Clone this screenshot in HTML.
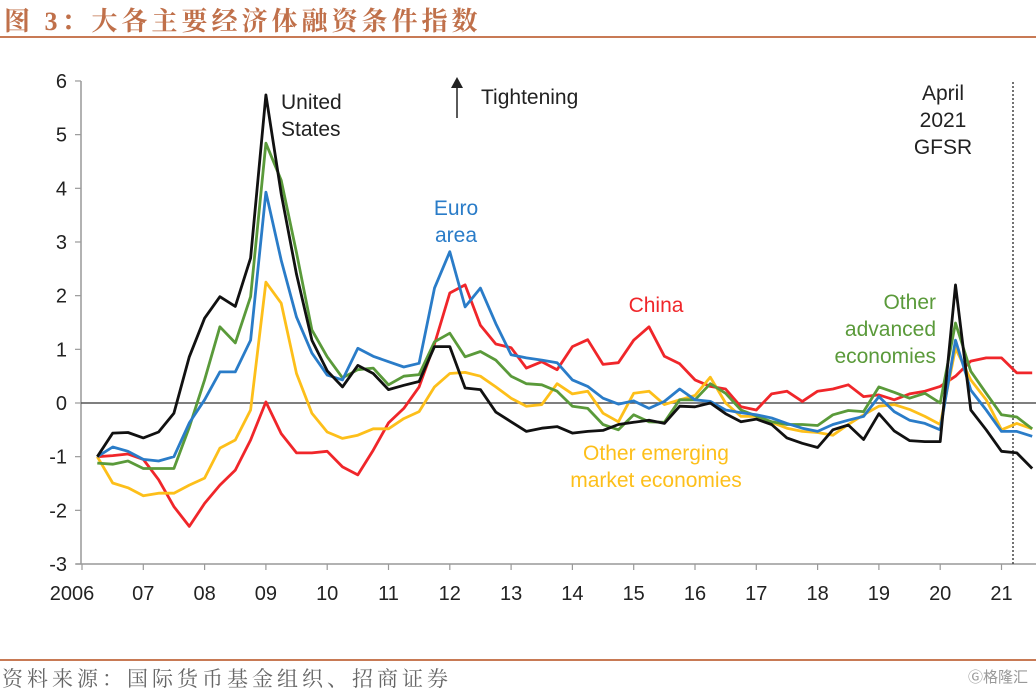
<!DOCTYPE html>
<html><head><meta charset="utf-8">
<style>
body{margin:0;background:#fff;width:1036px;height:692px;overflow:hidden;position:relative;font-family:"Liberation Sans","Noto Sans CJK SC",sans-serif}
#title{position:absolute;left:4px;top:1px;font-family:"Liberation Serif","Noto Serif CJK SC",serif;font-size:26px;font-weight:bold;color:#c0704a;letter-spacing:4px}
#tline{position:absolute;left:0;top:36px;width:1036px;height:2px;background:#c87a55}
#bline{position:absolute;left:0;top:659px;width:1036px;height:2px;background:#c87a55}
#src{position:absolute;left:2px;top:663px;font-family:"Liberation Serif","Noto Serif CJK SC",serif;font-size:21px;color:#666;letter-spacing:4px}
#wm{position:absolute;right:8px;top:666px;font-size:15px;color:#999}
svg{position:absolute;left:0;top:0}
</style></head><body>
<div id="title">图 3：大各主要经济体融资条件指数</div>
<div id="tline"></div>
<svg id="chart" width="1036" height="692"></svg>
<div id="bline"></div>
<div id="src">资料来源：国际货币基金组织、招商证券</div>
<div id="wm">Ⓖ格隆汇</div>
<script>
const yTicks=[6,5,4,3,2,1,0,-1,-2,-3];
const xTickLabels=["2006","07","08","09","10","11","12","13","14","15","16","17","18","19","20","21"];
const startYear=2006.25, step=0.25;
const us=[-1.0,-0.56,-0.55,-0.65,-0.54,-0.19,0.86,1.58,1.98,1.8,2.7,5.74,3.9,2.4,1.17,0.6,0.3,0.7,0.55,0.25,0.33,0.4,1.05,1.05,0.28,0.25,-0.17,-0.35,-0.53,-0.47,-0.44,-0.56,-0.53,-0.51,-0.4,-0.36,-0.32,-0.38,-0.06,-0.07,0.0,-0.2,-0.35,-0.3,-0.4,-0.65,-0.75,-0.83,-0.5,-0.41,-0.68,-0.2,-0.52,-0.7,-0.72,-0.72,2.2,-0.13,-0.5,-0.9,-0.93,-1.22];
const china=[-1.0,-0.98,-0.95,-1.05,-1.43,-1.93,-2.3,-1.87,-1.53,-1.25,-0.69,0.02,-0.57,-0.93,-0.93,-0.9,-1.19,-1.34,-0.88,-0.37,-0.1,0.3,1.1,2.05,2.2,1.45,1.1,1.03,0.65,0.77,0.62,1.05,1.18,0.72,0.75,1.17,1.42,0.87,0.73,0.43,0.31,0.26,-0.07,-0.13,0.17,0.22,0.03,0.22,0.26,0.34,0.12,0.15,0.06,0.17,0.22,0.31,0.5,0.78,0.84,0.84,0.56,0.56];
const euro=[-1.0,-0.82,-0.9,-1.05,-1.08,-1.0,-0.37,0.06,0.58,0.58,1.17,3.93,2.66,1.6,0.93,0.52,0.43,1.02,0.87,0.77,0.67,0.74,2.14,2.82,1.79,2.14,1.48,0.9,0.84,0.8,0.75,0.43,0.31,0.09,-0.02,0.04,-0.1,0.03,0.26,0.06,0.03,-0.13,-0.18,-0.22,-0.28,-0.38,-0.47,-0.53,-0.4,-0.32,-0.25,0.12,-0.16,-0.32,-0.38,-0.5,1.17,0.24,-0.13,-0.53,-0.53,-0.62];
const otherAdv=[-1.12,-1.14,-1.08,-1.22,-1.22,-1.22,-0.45,0.43,1.42,1.12,1.98,4.84,4.15,2.8,1.36,0.86,0.47,0.62,0.65,0.34,0.5,0.53,1.14,1.3,0.86,0.96,0.8,0.5,0.36,0.34,0.22,-0.06,-0.1,-0.4,-0.5,-0.22,-0.35,-0.36,0.06,0.06,0.36,0.18,-0.13,-0.24,-0.35,-0.4,-0.4,-0.42,-0.22,-0.14,-0.16,0.3,0.2,0.09,0.18,0.0,1.49,0.59,0.18,-0.22,-0.26,-0.48];
const otherEm=[-1.0,-1.49,-1.58,-1.73,-1.68,-1.68,-1.53,-1.4,-0.84,-0.69,-0.13,2.25,1.86,0.55,-0.19,-0.54,-0.66,-0.6,-0.48,-0.48,-0.29,-0.16,0.3,0.55,0.57,0.5,0.3,0.09,-0.06,-0.03,0.36,0.17,0.22,-0.19,-0.35,0.18,0.22,-0.03,0.06,0.14,0.48,0.0,-0.25,-0.25,-0.36,-0.47,-0.53,-0.55,-0.6,-0.4,-0.22,-0.06,-0.03,-0.12,-0.25,-0.4,1.02,0.43,0.06,-0.5,-0.38,-0.48];

const NS="http://www.w3.org/2000/svg";
const svg=document.getElementById('chart');
const X=t=>82+61.3*(t-2006);
const Y=v=>403-53.67*v;
function mk(tag,attrs,parent){const e=document.createElementNS(NS,tag);for(const k in attrs)e.setAttribute(k,attrs[k]);(parent||svg).appendChild(e);return e;}
let e=mk('line',{x1:81,y1:Y(6),x2:81,y2:Y(-3),stroke:'#999','stroke-width':1.5});


e=mk('line',{x1:76,y1:Y(-3),x2:1036,y2:Y(-3),stroke:'#999','stroke-width':1.5});


yTicks.forEach(v=>{
  mk('line',{x1:75,y1:Y(v),x2:81,y2:Y(v),stroke:'#999','stroke-width':1.2});
  const t=mk('text',{x:67,y:Y(v)+7,'text-anchor':'end','font-size':20,fill:'#222'});
  t.textContent=String(v);
  
  
});
xTickLabels.forEach((l,i)=>{
  const x=X(2006+i);
  mk('line',{x1:x,y1:Y(-3),x2:x,y2:Y(-3)+6,stroke:'#999','stroke-width':1.2});
  const t=mk('text',{x:x+(i===0?-10:0),y:600,'text-anchor':'middle','font-size':20,fill:'#222'});
  t.textContent=l;
  
  
});
e=mk('line',{x1:81,y1:Y(0),x2:1036,y2:Y(0),stroke:'#555','stroke-width':1.5});


e=mk('line',{x1:1013,y1:82,x2:1013,y2:Y(-3),stroke:'#444','stroke-width':1.5,'stroke-dasharray':'2,2'});


function series(arr,color,name){
  const pts=arr.map((v,i)=>X(startYear+step*i).toFixed(1)+','+Y(v).toFixed(1)).join(' ');
  const p=mk('polyline',{points:pts,fill:'none',stroke:color,'stroke-width':2.8,'stroke-linejoin':'round'});
  
  
}
series(china,'#f0262a','china-line');
series(otherEm,'#fdbf1a','other-emerging-line');
series(otherAdv,'#5a9a3a','other-advanced-line');
series(euro,'#2a7cc8','euro-area-line');
series(us,'#111','united-states-line');
function label(lines,x,y,color,anchor,name){
  const t=mk('text',{x:x,y:y,'text-anchor':anchor,'font-size':21,fill:color});
  lines.forEach((l,i)=>{const s=mk('tspan',{x:x,dy:i?27:0},t);s.textContent=l;});
  
  
}
label(['United','States'],281,109,'#222','start','us-label');
label(['Euro','area'],456,215,'#2a7cc8','middle','euro-label');
label(['China'],656,312,'#f0262a','middle','china-label');
label(['Other','advanced','economies'],936,309,'#5a9a3a','end','other-advanced-label');
label(['Other emerging','market economies'],656,460,'#fdbf1a','middle','other-emerging-label');
label(['April','2021','GFSR'],943,100,'#222','middle','gfsr-label');
label(['Tightening'],481,104,'#222','start','tightening-label');
e=mk('line',{x1:457,y1:118,x2:457,y2:84,stroke:'#222','stroke-width':1.5});


mk('polygon',{points:'451,88 457,77 463,88',fill:'#222'});
</script>
</body></html>
